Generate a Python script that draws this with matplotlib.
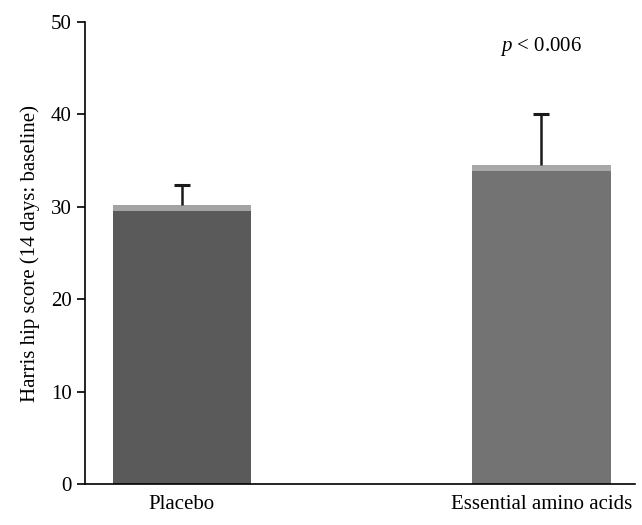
import matplotlib
matplotlib.use("Agg")
import matplotlib.pyplot as plt

groups = ["Placebo", "Essential amino acids"]
means = [30.2, 34.5]
errors = [2.2, 5.5]
colors = ["#5a5a5a", "#737373"]
bevel_colors = ["#a3a3a3", "#a8a8a8"]

plt.rcParams["font.family"] = ["Liberation Serif", "DejaVu Serif"]
plt.rcParams["mathtext.fontset"] = "custom"
plt.rcParams["mathtext.it"] = "Liberation Serif:italic"
plt.rcParams["mathtext.rm"] = "Liberation Serif"

fig = plt.figure(figsize=(6.42, 5.25), dpi=100)
ax = fig.add_axes([0.132, 0.078, 0.857, 0.88])

x = list(range(len(groups)))
width = 0.385
ax.bar(x, means, width=width, color=colors, zorder=2)
# light bevel strip on top of each bar
ax.bar(x, [0.6] * len(x), bottom=[m - 0.6 for m in means], width=width,
       color=bevel_colors, zorder=3)

# one-sided error bars (upper only)
tops = [m + e for m, e in zip(means, errors)]
ax.vlines(x, means, tops, color="#1a1a1a", linewidth=1.8, zorder=4)
ax.plot(x, tops, linestyle="none", marker="_", markersize=11,
        markeredgewidth=2.2, color="#1a1a1a", zorder=4)

ax.text(1, 47.4, r"$p$ < 0.006", ha="center", va="center", fontsize=15)

ax.set_xlim(-0.27, 1.26)
ax.set_ylim(0, 50)
ax.set_yticks(range(0, 51, 10))
ax.set_xticks(x)
ax.set_xticklabels(groups, fontsize=15)
ax.tick_params(axis="x", length=0, pad=8)
ax.tick_params(axis="y", labelsize=15, length=6, width=1.2, direction="out")
ax.set_ylabel("Harris hip score (14 days: baseline)", fontsize=15, labelpad=8)
for s in ["top", "right"]:
    ax.spines[s].set_visible(False)
for s in ["left", "bottom"]:
    ax.spines[s].set_linewidth(1.2)

fig.savefig("out.png", dpi=100)
